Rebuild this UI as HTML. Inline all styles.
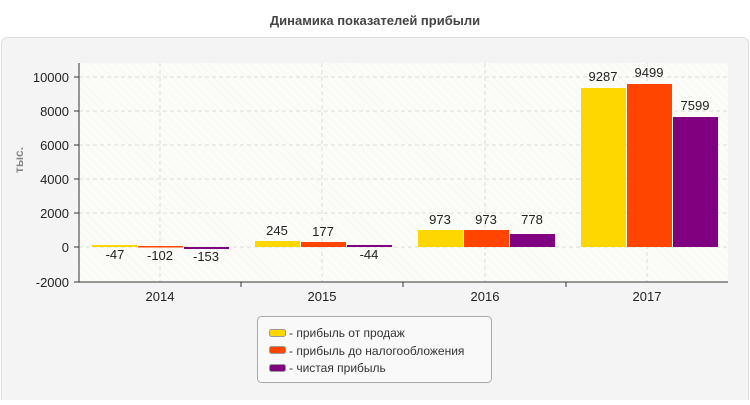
<!DOCTYPE html>
<html><head><meta charset="utf-8"><style>
body{margin:0;width:750px;height:400px;background:#fff;font-family:"Liberation Sans",sans-serif;overflow:hidden}
</style></head><body>
<svg width="750" height="400" xmlns="http://www.w3.org/2000/svg" font-family="Liberation Sans, sans-serif">
<defs>
<pattern id="h" width="6" height="6" patternUnits="userSpaceOnUse" patternTransform="rotate(-45)">
<rect width="6" height="6" fill="#fbfbf7"/><line x1="0" y1="0" x2="0" y2="6" stroke="#f3f3f0" stroke-width="1"/>
</pattern>
</defs>
<text x="375" y="25" text-anchor="middle" font-size="13" font-weight="bold" fill="#444">Динамика показателей прибыли</text>
<rect x="1.5" y="37.5" width="747" height="370" rx="6" fill="#f4f4f4" stroke="#ddd"/>
<rect x="79" y="63" width="649" height="219" fill="url(#h)"/>
<g stroke="#ddd" stroke-dasharray="4,3">
<line x1="79" x2="728" y1="77" y2="77"/><line x1="79" x2="728" y1="111" y2="111"/><line x1="79" x2="728" y1="145" y2="145"/><line x1="79" x2="728" y1="179" y2="179"/><line x1="79" x2="728" y1="213" y2="213"/><line x1="79" x2="728" y1="247" y2="247"/>
<line x1="160" x2="160" y1="63" y2="282"/><line x1="322" x2="322" y1="63" y2="282"/><line x1="485" x2="485" y1="63" y2="282"/><line x1="647" x2="647" y1="63" y2="282"/>
</g>
<g stroke="#333"><line x1="79" x2="79" y1="63" y2="282"/><line x1="79" x2="728" y1="282" y2="282"/>
<line x1="74" x2="79" y1="77" y2="77"/><line x1="74" x2="79" y1="111" y2="111"/><line x1="74" x2="79" y1="145" y2="145"/><line x1="74" x2="79" y1="179" y2="179"/><line x1="74" x2="79" y1="213" y2="213"/><line x1="74" x2="79" y1="247" y2="247"/><line x1="74" x2="79" y1="282" y2="282"/>
<line x1="241" x2="241" y1="282" y2="287"/><line x1="403" x2="403" y1="282" y2="287"/><line x1="566" x2="566" y1="282" y2="287"/></g>
<g font-size="13" fill="#222" text-anchor="end">
<text x="69" y="82">10000</text><text x="69" y="116">8000</text><text x="69" y="150">6000</text><text x="69" y="184">4000</text><text x="69" y="218">2000</text><text x="69" y="252">0</text><text x="69" y="287">-2000</text></g>
<g font-size="13" fill="#222" text-anchor="middle">
<text x="160" y="301">2014</text><text x="322" y="301">2015</text><text x="485" y="301">2016</text><text x="647" y="301">2017</text></g>
<text transform="translate(23,160) rotate(-90)" text-anchor="middle" font-size="12" font-weight="bold" fill="#888">тыс.</text>
<rect x="92" y="245" width="45" height="2" fill="#ffd700"/>
<rect x="138" y="246" width="45" height="1.5" fill="#ff4500"/>
<rect x="184" y="247" width="45" height="2" fill="#800080"/>
<rect x="255" y="241" width="45" height="6" fill="#ffd700"/>
<rect x="301" y="242" width="45" height="5" fill="#ff4500"/>
<rect x="347" y="245" width="45" height="2" fill="#800080"/>
<rect x="418" y="230" width="45" height="17" fill="#ffd700"/>
<rect x="464" y="230" width="45" height="17" fill="#ff4500"/>
<rect x="510" y="234" width="45" height="13" fill="#800080"/>
<rect x="581" y="88" width="45" height="159" fill="#ffd700"/>
<rect x="627" y="84" width="45" height="163" fill="#ff4500"/>
<rect x="673" y="117" width="45" height="130" fill="#800080"/>
<g font-size="13" fill="#222" text-anchor="middle">
<text x="115" y="259">-47</text><text x="160" y="260">-102</text><text x="206" y="261">-153</text>
<text x="277" y="235">245</text><text x="323" y="236">177</text><text x="369" y="259">-44</text>
<text x="440" y="224">973</text><text x="486" y="224">973</text><text x="532" y="224">778</text>
<text x="603" y="81">9287</text><text x="649" y="77">9499</text><text x="695" y="110">7599</text></g>
<rect x="257.5" y="316.5" width="234" height="66" rx="4" fill="#f9f9f9" stroke="#aaa"/>
<rect x="269.5" y="329.5" width="16" height="7" rx="2" fill="#ffd700" stroke="#999"/>
<rect x="269.5" y="346.5" width="16" height="7" rx="2" fill="#ff4500" stroke="#999"/>
<rect x="269.5" y="364.5" width="16" height="7" rx="2" fill="#800080" stroke="#999"/>
<g font-size="12" fill="#333"><text x="289" y="337">- прибыль от продаж</text><text x="289" y="355">- прибыль до налогообложения</text><text x="289" y="372">- чистая прибыль</text></g>
</svg>
</body></html>
